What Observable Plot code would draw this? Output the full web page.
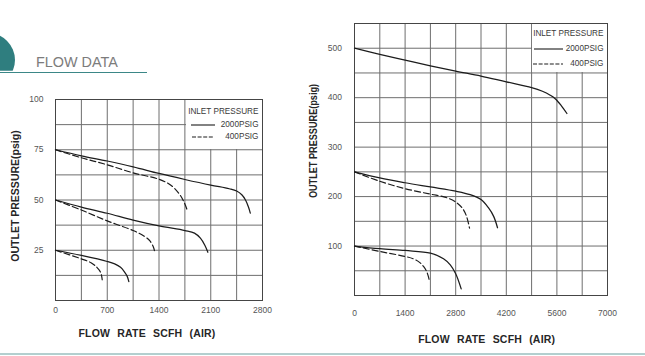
<!DOCTYPE html>
<html><head><meta charset="utf-8">
<script src="https://cdn.jsdelivr.net/npm/d3@7"></script>
<script src="https://cdn.jsdelivr.net/npm/@observablehq/plot@0.6"></script>
<style>
body{margin:0;background:#fff;}
#page{position:relative;width:645px;height:356px;overflow:hidden;background:#fff;font-family:"Liberation Sans",Arial,sans-serif;}
.abs{position:absolute;}
.t{position:absolute;white-space:nowrap;line-height:1;}
.xt{font-weight:bold;font-size:10.5px;color:#262626;word-spacing:4px;letter-spacing:0.2px;transform:translate(-50%,-50%);}
.yt{font-weight:bold;font-size:10.5px;color:#262626;}
.lg{font-size:8.2px;color:#3a3a3a;transform:translate(-100%,-50%);}
</style></head><body><div id="page"></div>
<script>
// ---------- tick labels & gridlines ----------
const leftXTicks = [0, 700, 1400, 2100, 2800];
const leftYTicks = [25, 50, 75, 100];
const leftXGrid = [0, 350, 700, 1050, 1400, 1750, 2100, 2450, 2800];
const leftYGrid = [0, 12.5, 25, 37.5, 50, 62.5, 75, 87.5, 100];
const rightXTicks = [0, 1400, 2800, 4200, 5600, 7000];
const rightYTicks = [100, 200, 300, 400, 500];
const rightXGrid = [0, 700, 1400, 2100, 2800, 3500, 4200, 4900, 5600, 6300, 7000];
const rightYGrid = [0, 50, 100, 150, 200, 250, 300, 350, 400, 450, 500, 550];

// ---------- left chart series (flow SCFH, outlet psig) ----------
const left75_2000 = [[0,75],[350,72],[700,69.4],[1050,66.5],[1400,63.2],[1750,60.2],[2100,57.4],[2350,55.6],[2450,54.5],[2520,52.6],[2570,50],[2610,46.5],[2635,43.5]];
const left75_400  = [[0,75],[350,71],[700,67.5],[1050,63.5],[1400,60.3],[1556,57.5],[1669,53.3],[1736,49.2],[1781,45]];
const left50_2000 = [[0,50],[350,46.5],[700,43.4],[1050,40],[1400,37.1],[1750,34.8],[1880,33.5],[1960,31],[2020,27.5],[2061,24]];
const left50_400  = [[0,50],[350,45],[700,39.6],[1050,34.8],[1200,32],[1280,29.5],[1330,26],[1344,23.5]];
const left25_2000 = [[0,25],[350,22.4],[700,19.4],[800,18.2],[880,16.5],[930,14.4],[970,12],[992,9.4]];
const left25_400  = [[0,25],[350,20.7],[480,18.8],[560,16.5],[610,14],[632,10.3]];

// ---------- right chart series ----------
const right500_2000 = [[0,500],[700,487.6],[1400,476],[2100,464.5],[2800,453.8],[3500,443.7],[4200,432],[4900,420.5],[5200,413],[5415,405],[5553,398],[5720,384],[5877,368]];
const right250_2000 = [[0,250],[700,237.7],[1400,228],[2100,219.5],[2800,211],[3200,204],[3500,194],[3700,178],[3850,160],[3957,137]];
const right250_400  = [[0,250],[700,231],[1400,216],[2100,205],[2500,199],[2800,189],[3000,175],[3100,160],[3183,136]];
const right100_2000 = [[0,100],[700,94.6],[1400,91],[2100,85.8],[2463,74.3],[2650,62],[2800,44],[2952,13.5]];
const right100_400  = [[0,100],[700,89],[1400,79],[1633,74],[1800,67],[1910,58.7],[2000,48],[2067,32]];

const legendLabels = ["INLET PRESSURE", "2000PSIG", "400PSIG"];

function rows(series) {
  const out = [];
  series.forEach((s, i) => s.forEach(([x, y]) => out.push({id: i, x, y})));
  return out;
}

const page = document.getElementById("page");
function place(el, left, top) { el.style.left = left + "px"; el.style.top = top + "px"; page.appendChild(el); return el; }
function text(cls, str, left, top, extra) {
  const d = document.createElement("div");
  d.className = "t " + cls; d.textContent = str;
  if (extra) Object.assign(d.style, extra);
  return place(d, left, top);
}

function chart(o) {
  const p = Plot.plot({
    width: o.width, height: o.height,
    marginLeft: o.ml, marginRight: o.mr, marginTop: o.mt, marginBottom: o.mb,
    x: {domain: o.xDomain},
    y: {domain: o.yDomain},
    style: {fontFamily: '"Liberation Sans", Arial, sans-serif', fontSize: "8.5px", background: "transparent", color: "#555", overflow: "visible"},
    marks: [
      Plot.ruleX(o.xGrid, {stroke: "#6e6e6e", strokeWidth: 1}),
      Plot.ruleY(o.yGrid, {stroke: "#6e6e6e", strokeWidth: 1}),
      Plot.frame({stroke: "#454545", strokeWidth: 1}),
      Plot.axisX(o.xTicks, {tickSize: 0, tickPadding: o.xPad, label: null, fill: "#555", fontSize: 8.5, tickFormat: d => String(d)}),
      Plot.axisY(o.yTicks, {tickSize: 0, tickPadding: o.yPad, label: null, fill: "#555", fontSize: 8.5, tickFormat: d => String(d)}),
      Plot.line(rows(o.solid), {x: "x", y: "y", z: "id", curve: "catmull-rom", stroke: "#1c1c1c", strokeWidth: 1.25}),
      Plot.line(rows(o.dashed), {x: "x", y: "y", z: "id", curve: "catmull-rom", stroke: "#1c1c1c", strokeWidth: 1.2, strokeDasharray: "6,3"})
    ]
  });
  p.style.position = "absolute";
  place(p, o.left, o.top);
  return p;
}

// left chart
chart({left: 0, top: 85, width: 300, height: 240, ml: 55, mr: 38, mt: 14, mb: 25,
  xDomain: [0, 2800], yDomain: [0, 100], xGrid: leftXGrid, yGrid: leftYGrid,
  xTicks: leftXTicks, yTicks: leftYTicks, xPad: 6.5, yPad: 12,
  solid: [left75_2000, left50_2000, left25_2000], dashed: [left75_400, left50_400, left25_400]});

// right chart
chart({left: 300, top: 10, width: 330, height: 310, ml: 54, mr: 23, mt: 13, mb: 25,
  xDomain: [0, 7000], yDomain: [0, 550], xGrid: rightXGrid, yGrid: rightYGrid,
  xTicks: rightXTicks, yTicks: rightYTicks, xPad: 14.5, yPad: 12.5,
  solid: [right500_2000, right250_2000, right100_2000], dashed: [right250_400, right100_400]});

// legends
function legend(box, rowsY, textRight, lines) {
  const b = document.createElement("div");
  b.className = "abs";
  Object.assign(b.style, {width: box.w + "px", height: box.h + "px", background: "#fff"});
  place(b, box.x, box.y);
  text("lg", legendLabels[0], textRight, rowsY[0]);
  [1, 2].forEach(i => {
    text("lg", legendLabels[i], textRight, rowsY[i]);
    const ns = "http://www.w3.org/2000/svg";
    const s = document.createElementNS(ns, "svg");
    const [x1, x2] = lines[i - 1];
    s.setAttribute("width", x2 - x1); s.setAttribute("height", 4);
    s.style.position = "absolute"; s.style.left = x1 + "px"; s.style.top = (rowsY[i] - 2) + "px";
    const l = document.createElementNS(ns, "line");
    l.setAttribute("x1", 0); l.setAttribute("x2", x2 - x1); l.setAttribute("y1", 2); l.setAttribute("y2", 2);
    l.setAttribute("stroke", "#1c1c1c"); l.setAttribute("stroke-width", 1.1);
    if (i === 2) l.setAttribute("stroke-dasharray", "4,1.6");
    s.appendChild(l); page.appendChild(s);
  });
}
legend({x: 185.6, y: 100, w: 76.2, h: 49.1}, [112, 124.7, 137.3], 258.5, [[191, 215], [192, 213]]);
legend({x: 531.6, y: 23.8, w: 75.6, h: 48.6}, [34.3, 49.3, 64.3], 603.5, [[534, 563], [533, 563]]);

// axis titles
text("xt", "FLOW RATE SCFH (AIR)", 147, 332.7);
text("xt", "FLOW RATE SCFH (AIR)", 486.7, 339.3);
text("yt", "OUTLET PRESSURE(psig)", 15, 196, {transform: "translate(-50%,-50%) rotate(-90deg)"});
text("yt", "OUTLET PRESSURE(psig)", 313, 141, {transform: "translate(-50%,-50%) rotate(-90deg) scaleX(0.87)"});

// header
const circ = document.createElement("div");
circ.className = "abs";
Object.assign(circ.style, {width: "54px", height: "54px", borderRadius: "50%", background: "#2f7e7f",
  clipPath: "inset(0 0 16.3px 0)"});
place(circ, -39, 33);
const rule = document.createElement("div");
rule.className = "abs";
Object.assign(rule.style, {width: "147px", height: "1.5px", background: "#3b8787"});
place(rule, 0, 71.5);
text("", "FLOW DATA", 36, 61.7, {fontSize: "14.4px", color: "#7c7c7c", transform: "translateY(-50%)"});
const bottom = document.createElement("div");
bottom.className = "abs";
Object.assign(bottom.style, {width: "645px", height: "2px", background: "#b3cfcf"});
place(bottom, 0, 352.5);
</script>
</body></html>
